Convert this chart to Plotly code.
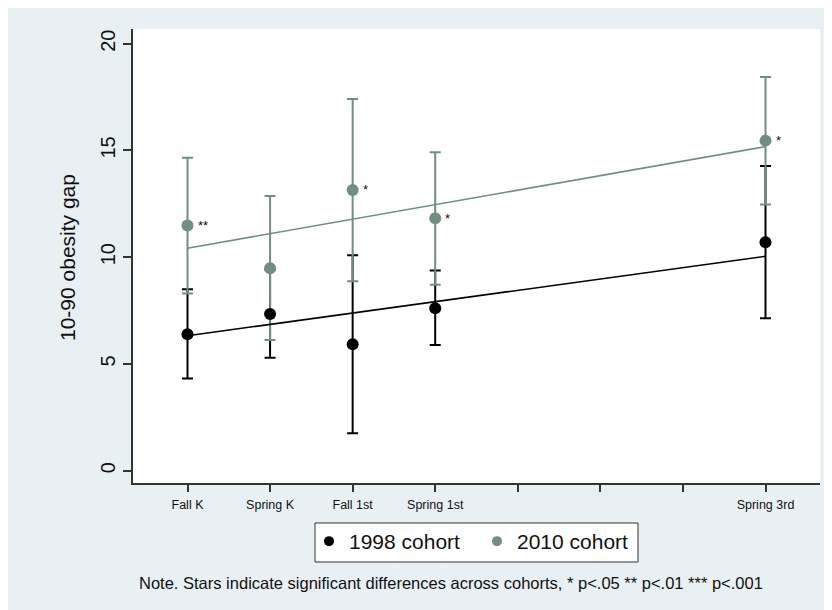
import plotly.graph_objects as go

# ---- data ----
waves = ["Fall K", "Spring K", "Fall 1st", "Spring 1st", "Spring 3rd"]
wave_pos = [1, 2, 3, 4, 8]
tick_vals = [1, 2, 3, 4, 5, 6, 7, 8]
tick_text = ["Fall K", "Spring K", "Fall 1st", "Spring 1st", "", "", "", "Spring 3rd"]

gap_1998 = [6.39, 7.34, 5.92, 7.61, 10.70]
lo_1998 = [4.31, 5.29, 1.75, 5.89, 7.14]
hi_1998 = [8.50, 9.41, 10.09, 9.37, 14.27]

gap_2010 = [11.48, 9.48, 13.15, 11.82, 15.46]
lo_2010 = [8.30, 6.12, 8.87, 8.71, 12.47]
hi_2010 = [14.66, 12.87, 17.41, 14.91, 18.44]

stars_2010 = ["**", "", "*", "*", "*"]

fit_x = [1, 8]
fit_1998 = [6.32, 10.04]
fit_2010 = [10.42, 15.18]

BLACK = "#000000"
GREEN = "#6f8f82"
BG = "#e8f0f3"
FONT = "Arial, Liberation Sans, sans-serif"

fig = go.Figure()

def err_trace(y, lo, hi, color):
    return go.Scatter(
        x=wave_pos, y=y, mode="markers",
        marker=dict(size=1, color="rgba(0,0,0,0)"),
        error_y=dict(type="data", symmetric=False,
                     array=[h - m for h, m in zip(hi, y)],
                     arrayminus=[m - l for m, l in zip(y, lo)],
                     color=color, thickness=2, width=5.5),
        showlegend=False, hoverinfo="skip")

fig.add_trace(err_trace(gap_1998, lo_1998, hi_1998, BLACK))
fig.add_trace(err_trace(gap_2010, lo_2010, hi_2010, GREEN))

fig.add_trace(go.Scatter(x=wave_pos, y=gap_1998, mode="markers",
                         marker=dict(size=12, color=BLACK), showlegend=False))
fig.add_trace(go.Scatter(x=wave_pos, y=gap_2010, mode="markers",
                         marker=dict(size=12, color=GREEN), showlegend=False))

fig.add_trace(go.Scatter(x=fit_x, y=fit_1998, mode="lines",
                         line=dict(color=BLACK, width=1.6), showlegend=False))
fig.add_trace(go.Scatter(x=fit_x, y=fit_2010, mode="lines",
                         line=dict(color=GREEN, width=1.6), showlegend=False))

# legend-only entries
fig.add_trace(go.Scatter(x=[None], y=[None], mode="markers", name="1998 cohort",
                         marker=dict(size=10, color=BLACK)))
fig.add_trace(go.Scatter(x=[None], y=[None], mode="markers", name="2010 cohort",
                         marker=dict(size=10, color=GREEN)))

for xp, yv, s in zip(wave_pos, gap_2010, stars_2010):
    if s:
        fig.add_annotation(x=xp, y=yv, text=s, showarrow=False, xanchor="left",
                           yanchor="middle", xshift=8, yshift=0,
                           font=dict(family=FONT, size=13, color="#111111"))

# figure is placed at (8, 8) in the page
W, H = 824, 602
L, R, T, B = 125, 12, 21, 127
pw, ph = W - L - R, H - T - B
def px2x(px):
    return (px - 8 - L) / pw
def py2y(py):
    return (H - B - (py - 8)) / ph

# y title
fig.add_annotation(xref="paper", yref="paper", x=px2x(67), y=py2y(258),
                   text="10-90 obesity gap", textangle=-90, showarrow=False,
                   xanchor="center", yanchor="middle",
                   font=dict(family=FONT, size=21, color="#111111"))

# note
fig.add_annotation(xref="paper", yref="paper", x=px2x(137), y=py2y(583),
                   text="Note. Stars indicate significant differences across cohorts, * p<.05 ** p<.01 *** p<.001",
                   showarrow=False, xanchor="left", yanchor="middle",
                   font=dict(family=FONT, size=16.5, color="#111111"))

# legend frame
fig.add_shape(type="rect", xref="paper", yref="paper",
              x0=px2x(315), x1=px2x(638), y0=py2y(562), y1=py2y(523),
              fillcolor="white", line=dict(color="#333333", width=1), layer="below")

fig.update_layout(
    width=W, height=H,
    margin=dict(l=L, r=R, t=T, b=B, autoexpand=False),
    paper_bgcolor=BG, plot_bgcolor="white",
    font=dict(family=FONT, color="#111111"),
    showlegend=True,
    legend=dict(orientation="h", x=px2x(309), xanchor="left", y=py2y(521), yanchor="top",
                borderwidth=0, bgcolor="rgba(0,0,0,0)",
                font=dict(family=FONT, size=21, color="#111111"),
                itemwidth=30, tracegroupgap=0, entrywidth=123, entrywidthmode="pixels"),
)
fig.update_xaxes(range=[0.34, 8.66], tickmode="array", tickvals=tick_vals, ticktext=tick_text,
                 showgrid=False, zeroline=False, showline=True, linecolor="#333333", linewidth=1.5,
                 ticks="outside", ticklen=7, tickwidth=1.5, tickcolor="#333333",
                 ticklabelstandoff=2,
                 tickfont=dict(family=FONT, size=12.5, color="#111111"), automargin=False)
fig.update_yaxes(range=[-0.58, 20.69], tickmode="array", tickvals=[0, 5, 10, 15, 20],
                 showgrid=False, zeroline=False, showline=True, linecolor="#333333", linewidth=1.5,
                 ticks="outside", ticklen=8, tickwidth=1.5, tickcolor="#333333",
                 tickangle=-90, tickfont=dict(family=FONT, size=20, color="#111111"),
                 automargin=False)

fig.write_html("out.html")
